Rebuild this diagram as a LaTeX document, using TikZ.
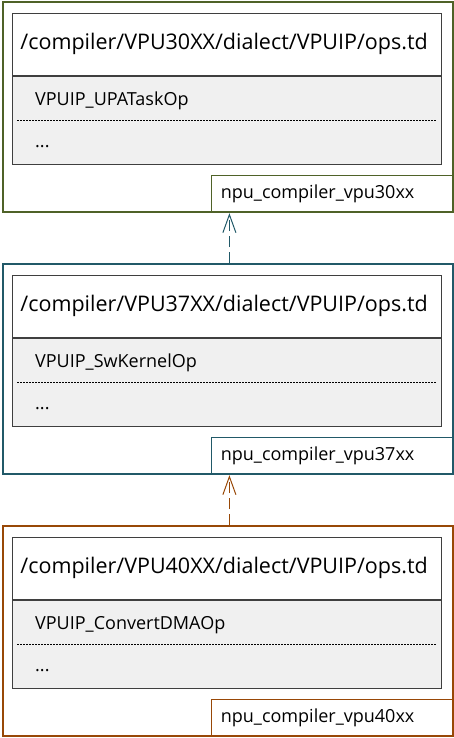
\documentclass[tikz,border=0pt]{standalone}
\usepackage{fontspec}
\setmainfont{Open Sans}
\usetikzlibrary{arrows.meta,positioning}
\definecolor{rule}{HTML}{3F3F3F}
\definecolor{shade}{HTML}{F0F0F0}
\definecolor{vpu30}{HTML}{4F6228}
\definecolor{vpu37}{HTML}{215968}
\definecolor{vpu40}{HTML}{984807}

\begin{document}
\begin{tikzpicture}[
  x=1pt, y=1pt,
  font=\fontsize{18}{21}\selectfont,
  pkg/.style={draw=#1, line width=2.2pt, minimum width=450pt, minimum height=210pt, inner sep=0pt},
  head/.style={draw=rule, line width=0.8pt, fill=white, minimum width=429pt, minimum height=62pt, text width=413pt, inner xsep=8pt, align=left, font=\fontsize{21.5}{25}\selectfont},
  body/.style={draw=rule, line width=0.8pt, fill=shade, minimum width=429pt, minimum height=88pt},
  item/.style={anchor=base west, inner sep=0pt},
  sep/.style={draw=black, line width=0.6pt, dash pattern=on 2pt off 1pt},
  tag/.style={draw=#1, line width=0.8pt, minimum width=242pt, minimum height=37pt, text width=224pt, inner xsep=9pt, align=left, anchor=south east},
  dep/.style={draw=#1, line width=1pt, dash pattern=on 11pt off 5pt, -{Straight Barb[length=18pt, width=13pt]}}
]
\useasboundingbox (0,0) rectangle (454,-738);

% ops.td of each dialect, newest at the bottom
\node[pkg=vpu30, anchor=north west] (f1) at (2,-1) {};
\node[head, below right=12pt and 10pt of f1.north west] (h1) {/compiler/VPU30XX/dialect/VPUIP/ops.td};
\node[body, below=0pt of h1] (b1) {};
\node[item] (o1) at ([xshift=23pt, yshift=-30pt]b1.north west) {VPUIP\_UPATaskOp};
\node[item] (d1) at ([xshift=23pt, yshift=-72pt]b1.north west) {...};
\draw[sep] ([xshift=5pt]b1.west) -- ([xshift=-6pt]b1.east);
\node[tag=vpu30] (t1) at (f1.south east) {npu\_compiler\_vpu30xx};

\node[pkg=vpu37, below=49.8pt of f1] (f2) {};
\node[head, below right=12pt and 10pt of f2.north west] (h2) {/compiler/VPU37XX/dialect/VPUIP/ops.td};
\node[body, below=0pt of h2] (b2) {};
\node[item] (o2) at ([xshift=23pt, yshift=-30pt]b2.north west) {VPUIP\_SwKernelOp};
\node[item] (d2) at ([xshift=23pt, yshift=-72pt]b2.north west) {...};
\draw[sep] ([xshift=5pt]b2.west) -- ([xshift=-6pt]b2.east);
\node[tag=vpu37] (t2) at (f2.south east) {npu\_compiler\_vpu37xx};

\node[pkg=vpu40, below=49.8pt of f2] (f3) {};
\node[head, below right=12pt and 10pt of f3.north west] (h3) {/compiler/VPU40XX/dialect/VPUIP/ops.td};
\node[body, below=0pt of h3] (b3) {};
\node[item] (o3) at ([xshift=23pt, yshift=-30pt]b3.north west) {VPUIP\_ConvertDMAOp};
\node[item] (d3) at ([xshift=23pt, yshift=-72pt]b3.north west) {...};
\draw[sep] ([xshift=5pt]b3.west) -- ([xshift=-6pt]b3.east);
\node[tag=vpu40] (t3) at (f3.south east) {npu\_compiler\_vpu40xx};

% each newer dialect depends on the older one
\coordinate[xshift=18pt] (u1) at (t1.south west);
\coordinate[xshift=18pt] (u2) at (t2.south west);
\foreach \a/\b/\c in {u1/f2/vpu37, u2/f3/vpu40} \draw[dep=\c] (\a |- \b.north) -- (\a);
\end{tikzpicture}
\end{document}
